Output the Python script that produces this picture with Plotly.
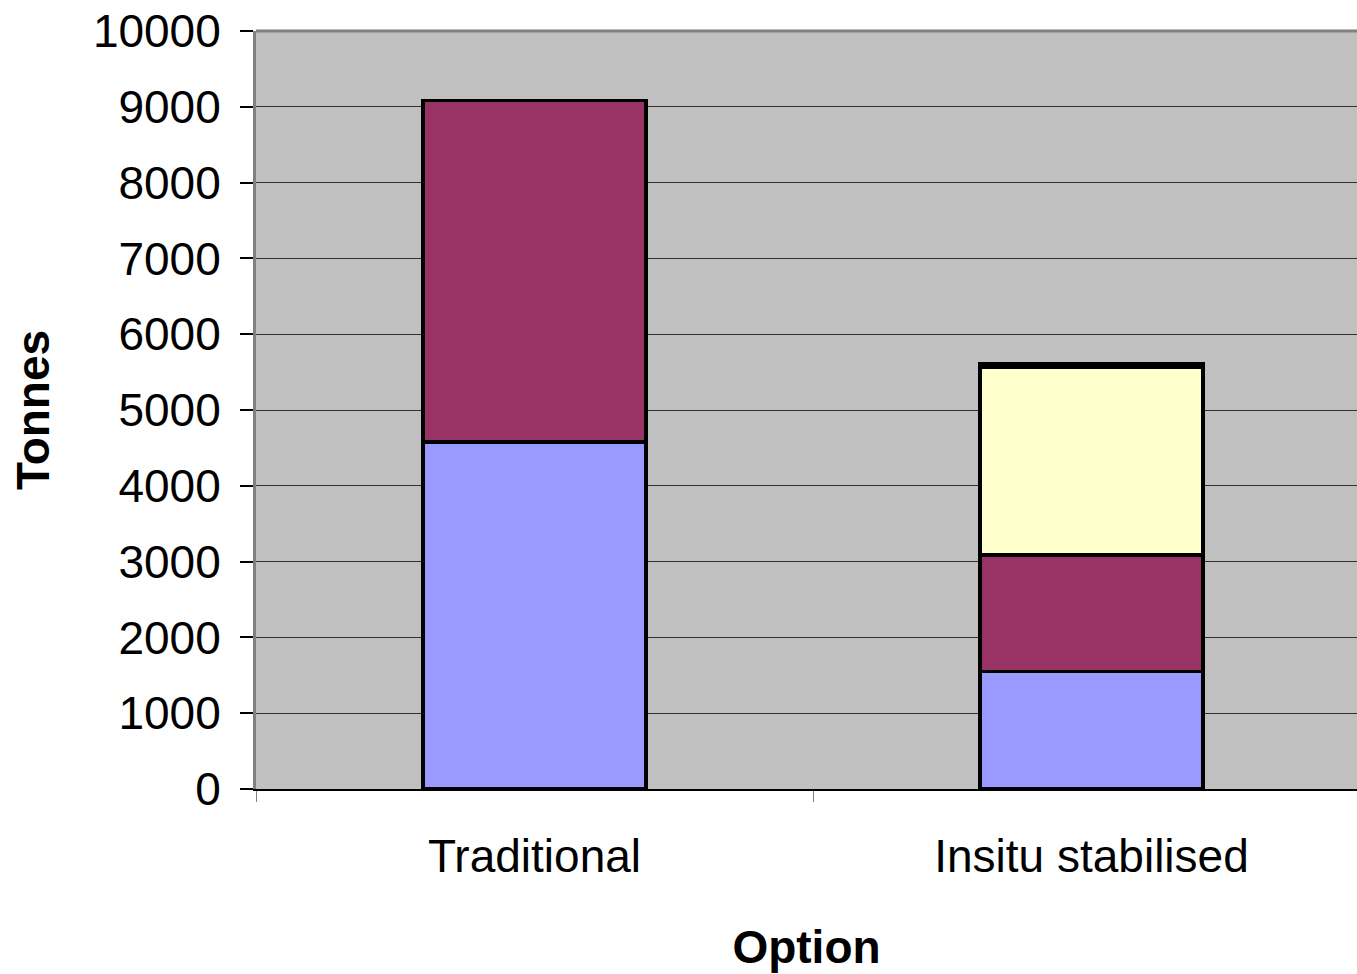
import plotly.graph_objects as go

# Tonnage by construction option, stacked by material component
options = ["Traditional", "Insitu stabilised"]
component_a = [4580, 1550]
component_b = [4500, 1540]
component_c = [0, 2470]
component_d = [0, 50]

series = [
    ("Component A", component_a, "#9999FF"),
    ("Component B", component_b, "#993366"),
    ("Component C", component_c, "#FFFFCC"),
    ("Component D", component_d, "#CCFFFF"),
]

y_ticks = list(range(0, 10001, 1000))
y_tick_text = [str(v) for v in y_ticks]

fig = go.Figure()
for name, vals, color in series:
    fig.add_trace(go.Bar(
        x=options, y=vals, name=name,
        marker=dict(color=color, line=dict(color="black", width=3.5)),
    ))

font = dict(family="Liberation Sans, Arial, sans-serif", color="black")

fig.update_layout(
    width=1357, height=974,
    barmode="stack", bargap=0.6,
    showlegend=False,
    paper_bgcolor="white", plot_bgcolor="#C0C0C0",
    margin=dict(l=256, r=0, t=31, b=185, autoexpand=False),
    font=font,
    xaxis=dict(
        range=[-0.5, -0.5 + 1101 / 557],
        tickson="boundaries", ticks="outside", ticklen=11, tickwidth=1, tickcolor="#808080",
        showline=True, linecolor="black", linewidth=2,
        tickfont=dict(size=46, **font),
        ticklabelstandoff=26,
        showgrid=False,
        title=dict(text="<b>Option</b>", font=dict(size=46, **font), standoff=50),
    ),
    yaxis=dict(
        range=[0, 10000], tickvals=y_ticks, ticktext=y_tick_text,
        ticks="outside", ticklen=13, tickwidth=1.5, tickcolor="black",
        showline=True, linecolor="#808080", linewidth=3,
        showgrid=True, gridcolor="#303030", gridwidth=1,
        tickfont=dict(size=46, **font),
        ticklabelstandoff=10,
        zeroline=False,
    ),
    annotations=[dict(
        text="<b>Tonnes</b>", textangle=-90, showarrow=False,
        xref="paper", yref="paper", x=-0.2025, y=0.5,
        xanchor="center", yanchor="middle",
        font=dict(size=46, **font),
    )],
    shapes=[dict(type="line", xref="paper", yref="paper", x0=0, x1=1, y0=1, y1=1,
                 line=dict(color="#808080", width=3))],
)

fig.write_html("out.html")
